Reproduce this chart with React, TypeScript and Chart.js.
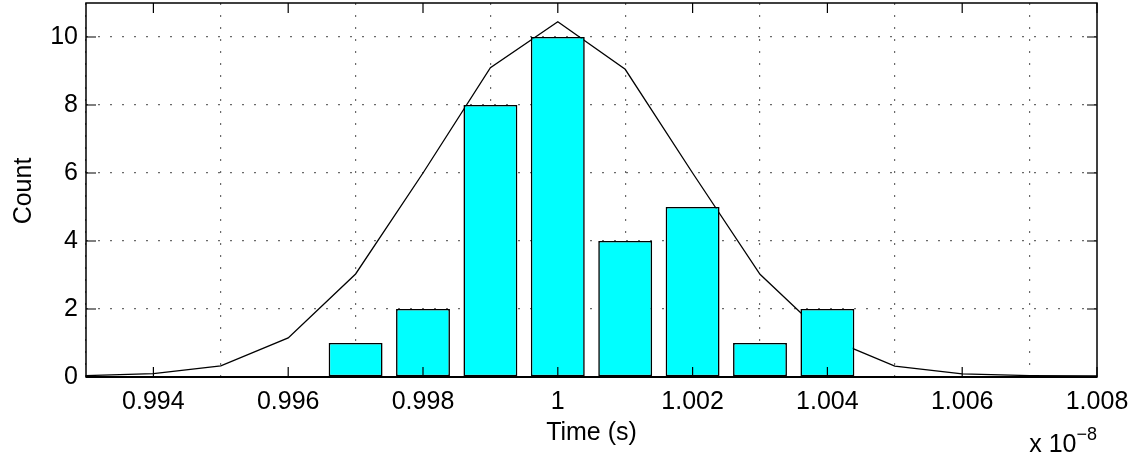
import React, { useEffect, useRef } from "react";
import { Chart, registerables } from "chart.js";

Chart.register(...registerables);

// Histogram bins (time in units of 1e-8 s)
const binCenters = [0.997, 0.998, 0.999, 1.0, 1.001, 1.002, 1.003, 1.004];
const binCounts = [1, 2, 8, 10, 4, 5, 1, 2];

// Fitted normal curve
const fitX = [
  0.993, 0.994, 0.995, 0.996, 0.997, 0.998, 0.999, 1.0, 1.001, 1.002, 1.003,
  1.004, 1.005, 1.006, 1.007, 1.008,
];
const fitY = [
  0.04, 0.1, 0.33, 1.15, 3.03, 6.0, 9.1, 10.45, 9.05, 6.0, 3.02, 1.15, 0.32,
  0.09, 0.04, 0.03,
];

const xTicks = [0.994, 0.996, 0.998, 1.0, 1.002, 1.004, 1.006, 1.008];
const yTicks = [0, 2, 4, 6, 8, 10];
const xRange = [0.993, 1.008];
const yRange = [0, 11];

const xTitle = "Time (s)";
const yTitle = "Count";
const expBase = "x 10";
const expPower = "\u22128";

const FONT = "'Liberation Sans', Arial, Helvetica, sans-serif";

const boxPlugin = {
  id: "matlabBox",
  afterDraw(chart: any) {
    const { ctx, chartArea } = chart;
    const { left, right, top, bottom } = chartArea;
    const xs = chart.scales.x;
    const ys = chart.scales.y;
    ctx.save();
    ctx.strokeStyle = "#000";
    ctx.lineWidth = 1.5;
    ctx.setLineDash([]);
    ctx.strokeRect(left, top, right - left, bottom - top);
    ctx.lineWidth = 2;
    ctx.beginPath();
    ctx.moveTo(left, bottom);
    ctx.lineTo(right, bottom);
    ctx.stroke();
    ctx.lineWidth = 1.2;
    const tl = 10;
    ctx.beginPath();
    xTicks.forEach((v) => {
      const px = xs.getPixelForValue(v);
      ctx.moveTo(px, bottom);
      ctx.lineTo(px, bottom - tl);
      ctx.moveTo(px, top);
      ctx.lineTo(px, top + tl);
    });
    yTicks.forEach((v) => {
      const py = ys.getPixelForValue(v);
      ctx.moveTo(left, py);
      ctx.lineTo(left + tl, py);
      ctx.moveTo(right, py);
      ctx.lineTo(right - tl, py);
    });
    ctx.stroke();

    ctx.fillStyle = "#000";
    ctx.font = `25px ${FONT}`;
    ctx.textAlign = "center";
    ctx.textBaseline = "alphabetic";
    ctx.fillText(xTitle, (left + right) / 2, 440);

    ctx.save();
    ctx.translate(31, (top + bottom) / 2 + 1);
    ctx.rotate(-Math.PI / 2);
    ctx.fillText(yTitle, 0, 0);
    ctx.restore();

    ctx.textAlign = "right";
    ctx.font = `18px ${FONT}`;
    const pw = ctx.measureText(expPower).width;
    ctx.fillText(expPower, right, 440);
    ctx.font = `25px ${FONT}`;
    ctx.fillText(expBase, right - pw, 452);
    ctx.restore();
  },
};

export default function App() {
  const canvasRef = useRef<HTMLCanvasElement | null>(null);

  useEffect(() => {
    if (!canvasRef.current) return;
    Chart.defaults.font.family = FONT;
    Chart.defaults.font.size = 25;
    Chart.defaults.color = "#000";

    const chart = new Chart(canvasRef.current, {
      type: "bar",
      data: {
        datasets: [
          {
            type: "bar",
            label: "Counts",
            data: binCenters.map((x, i) => ({ x, y: binCounts[i] })),
            backgroundColor: "#00ffff",
            borderColor: "#000",
            borderWidth: 1.6,
            borderSkipped: false,
            categoryPercentage: 1,
            barPercentage: 0.8,
            order: 0,
          } as any,
          {
            type: "line",
            label: "Fit",
            data: fitX.map((x, i) => ({ x, y: fitY[i] })),
            borderColor: "#000",
            borderWidth: 1.3,
            pointRadius: 0,
            tension: 0,
            fill: false,
            order: 1,
          } as any,
        ],
      },
      options: {
        animation: false,
        responsive: false,
        devicePixelRatio: 1,
        layout: { padding: { top: 3, right: 45, left: 0, bottom: 0 } },
        plugins: {
          legend: { display: false },
          tooltip: { enabled: false },
        },
        scales: {
          x: {
            type: "linear",
            min: xRange[0],
            max: xRange[1],
            offset: false,
            afterBuildTicks: (s: any) => {
              s.ticks = xTicks.map((v) => ({ value: v }));
            },
            afterFit: (s: any) => {
              s.height = 84;
              s.paddingLeft = 0;
              s.paddingRight = 0;
              s.paddingTop = 0;
              s.paddingBottom = 0;
            },
            ticks: {
              padding: 10,
              maxRotation: 0,
              autoSkip: false,
              font: { size: 25 },
              color: "#000",
              callback: (v: any) => String(Number(Number(v).toFixed(3))),
            },
            grid: {
              color: "#6a6a6a",
              lineWidth: 1.2,
              drawTicks: false,
            },
            border: { display: false, dash: [2, 10] },
          },
          y: {
            type: "linear",
            min: yRange[0],
            max: yRange[1],
            afterBuildTicks: (s: any) => {
              s.ticks = yTicks.map((v) => ({ value: v }));
            },
            afterFit: (s: any) => {
              s.width = 86;
              s.paddingLeft = 0;
              s.paddingRight = 0;
              s.paddingTop = 0;
              s.paddingBottom = 0;
            },
            ticks: {
              padding: 8,
              autoSkip: false,
              font: { size: 25 },
              color: "#000",
              callback: (v: any) => String(v),
            },
            grid: {
              color: "#6a6a6a",
              lineWidth: 1.2,
              drawTicks: false,
            },
            border: { display: false, dash: [2, 10] },
          },
        },
      } as any,
      plugins: [boxPlugin],
    });

    return () => chart.destroy();
  }, []);

  return (
    <div
      style={{
        position: "absolute",
        left: 0,
        top: 0,
        width: 1142,
        height: 461,
        background: "#fff",
      }}
    >
      <canvas ref={canvasRef} width={1142} height={461} />
    </div>
  );
}
